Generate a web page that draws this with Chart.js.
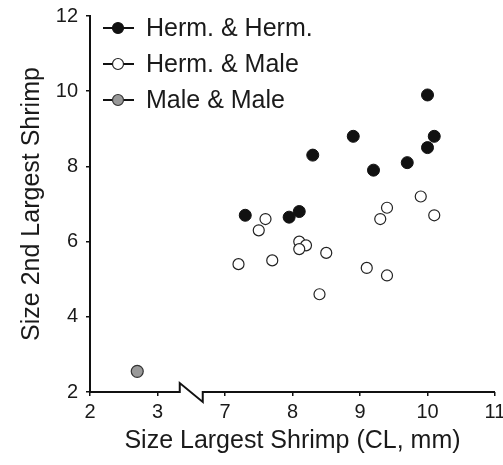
<!DOCTYPE html>
<html>
<head>
<meta charset="utf-8">
<script src="https://cdn.jsdelivr.net/npm/chart.js@4/dist/chart.umd.min.js"></script>
<style>
html,body{margin:0;padding:0;background:#fff;}
#wrap{width:503px;height:465px;}
</style>
</head>
<body>
<div id="wrap"><canvas id="c" width="503" height="465"></canvas></div>
<script>
// ---- data (real values, CL mm) ----
const seriesNames = ["Herm. & Herm.", "Herm. & Male", "Male & Male"];
const hhX = [7.3, 7.95, 8.1, 8.3, 8.9, 9.2, 9.7, 10.0, 10.0, 10.1];
const hhY = [6.7, 6.65, 6.8, 8.3, 8.8, 7.9, 8.1, 8.5, 9.9, 8.8];
const hmX = [7.6, 7.5, 8.1, 8.2, 8.1, 8.5, 7.2, 7.7, 8.4, 9.1, 9.4, 9.3, 9.4, 9.9, 10.1];
const hmY = [6.6, 6.3, 6.0, 5.9, 5.8, 5.7, 5.4, 5.5, 4.6, 5.3, 5.1, 6.6, 6.9, 7.2, 6.7];
const mmX = [2.7];
const mmY = [2.55];
const xTickLabels = ["2", "3", "7", "8", "9", "10", "11"];
const yTickValues = [2, 4, 6, 8, 10, 12];
const xTitle = "Size Largest Shrimp (CL, mm)";
const yTitle = "Size 2nd Largest Shrimp";

// broken axis: 2-3 then 7-11 mapped onto a continuous index axis
function toAxis(v){ return v < 5 ? v - 2 : v - 5; }
function pts(xs, ys){ return xs.map((x,i)=>({x: toAxis(x), y: ys[i]})); }

const FONT = "'Liberation Sans', Arial, Helvetica, sans-serif";
const TXT = '#1a1a1a';

const brokenAxis = {
  id: 'brokenAxis',
  afterDatasetsDraw(chart){
    const {ctx} = chart;
    const xs = chart.scales.x, ys = chart.scales.y;
    const y0 = ys.getPixelForValue(2);
    const bc = xs.getPixelForValue(1.5);
    const hw = 11.5;
    ctx.save();
    ctx.strokeStyle = '#111';
    ctx.lineWidth = 2;
    ctx.lineJoin = 'miter';
    ctx.beginPath();
    ctx.moveTo(xs.left, y0);
    ctx.lineTo(bc - hw, y0);
    ctx.lineTo(bc - hw, y0 - 9);
    ctx.lineTo(bc + hw, y0 + 10);
    ctx.lineTo(bc + hw, y0);
    ctx.lineTo(xs.right, y0);
    ctx.stroke();
    ctx.restore();
  }
};

const customLegend = {
  id: 'customLegend',
  afterDraw(chart){
    const {ctx} = chart;
    const rows = [28, 64, 100];
    ctx.save();
    chart.data.datasets.forEach((ds, i) => {
      const y = rows[i];
      ctx.strokeStyle = '#111';
      ctx.lineWidth = 2;
      ctx.beginPath();
      ctx.moveTo(103, y); ctx.lineTo(134, y);
      ctx.stroke();
      ctx.beginPath();
      ctx.arc(118, y, 5.5, 0, Math.PI*2);
      ctx.fillStyle = ds.backgroundColor;
      ctx.fill();
      ctx.lineWidth = 1.2;
      ctx.strokeStyle = ds.borderColor;
      ctx.stroke();
      ctx.fillStyle = TXT;
      ctx.font = "25px " + FONT;
      ctx.textBaseline = 'middle';
      ctx.textAlign = 'left';
      ctx.fillText(ds.label, 146, y + 1);
    });
    ctx.restore();
  }
};

new Chart(document.getElementById('c'), {
  type: 'scatter',
  data: {
    datasets: [
      {label: seriesNames[0], data: pts(hhX, hhY), backgroundColor: '#111', borderColor: '#111', borderWidth: 1, pointRadius: 6},
      {label: seriesNames[1], data: pts(hmX, hmY), backgroundColor: '#fff', borderColor: '#222', borderWidth: 1.2, pointRadius: 5.5},
      {label: seriesNames[2], data: pts(mmX, mmY), backgroundColor: '#999', borderColor: '#333', borderWidth: 1.2, pointRadius: 6}
    ]
  },
  options: {
    responsive: false,
    animation: false,
    devicePixelRatio: 1,
    layout: {padding: {left: 0, top: 16, right: 8, bottom: 0}},
    plugins: {legend: {display: false}, tooltip: {enabled: false}},
    scales: {
      x: {
        type: 'linear', min: 0, max: 6,
        afterBuildTicks(s){ s.ticks = xTickLabels.map((_, i) => ({value: i})); },
        ticks: {
          callback: (v) => xTickLabels[v] ?? '',
          color: TXT, font: {family: FONT, size: 20}, padding: 4, maxRotation: 0, autoSkip: false
        },
        grid: {display: true, drawOnChartArea: false, drawTicks: true, tickLength: 4, color: '#111', lineWidth: 1.5},
        border: {display: false},
        title: {display: true, text: xTitle, color: TXT, font: {family: FONT, size: 25}, padding: {top: 0, bottom: 9}},
        afterFit(s){ s.height = 73; s.paddingRight = 0; s.paddingLeft = 0; }
      },
      y: {
        type: 'linear', min: 2, max: 12,
        afterBuildTicks(s){ s.ticks = yTickValues.map(v => ({value: v})); },
        ticks: {color: TXT, font: {family: FONT, size: 20}, padding: 8},
        grid: {display: true, drawOnChartArea: false, drawTicks: true, tickLength: 4, color: '#111', lineWidth: 1.5},
        border: {display: true, color: '#111', width: 2},
        title: {display: true, text: yTitle, color: TXT, font: {family: FONT, size: 25}, padding: {top: 17, bottom: 0}},
        afterFit(s){ s.width = 90; s.paddingTop = 0; s.paddingBottom = 0; }
      }
    }
  },
  plugins: [brokenAxis, customLegend]
});
</script>
</body>
</html>
